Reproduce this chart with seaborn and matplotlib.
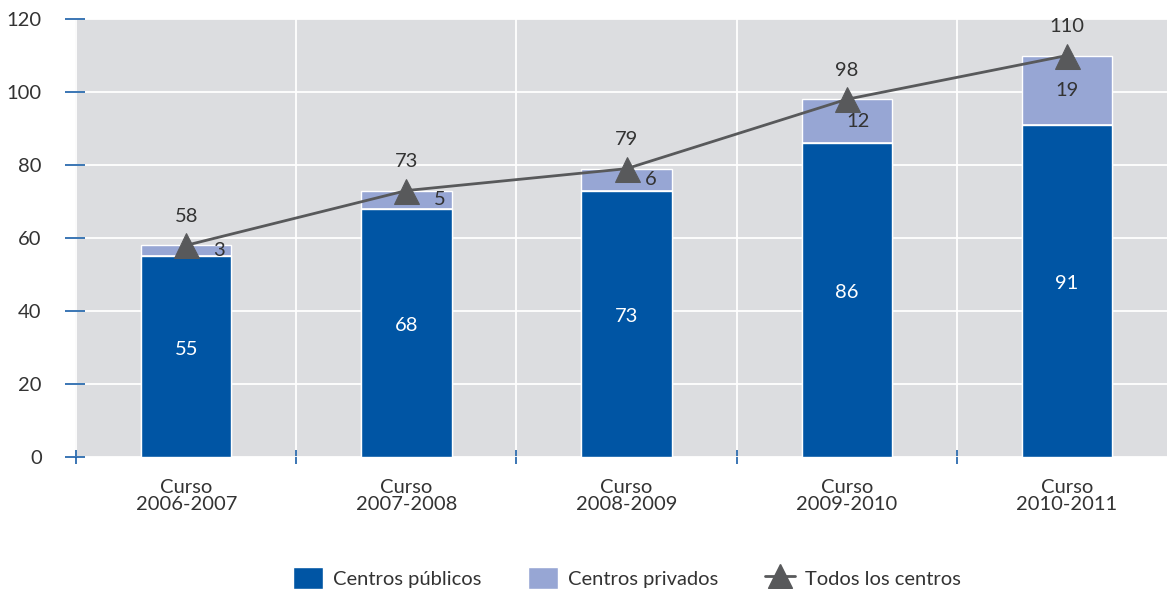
import numpy as np
import pandas as pd
import matplotlib
matplotlib.use('Agg')
import matplotlib.pyplot as plt
import seaborn as sns
from matplotlib.patches import Patch
from matplotlib.lines import Line2D

# Data
cursos = ["Curso\n2006-2007", "Curso\n2007-2008", "Curso\n2008-2009",
          "Curso\n2009-2010", "Curso\n2010-2011"]
publicos = [55, 68, 73, 86, 91]
privados = [3, 5, 6, 12, 19]
totales = [58, 73, 79, 98, 110]

# Colours
c_pub = "#0055a4"
c_priv = "#97a6d4"
c_line = "#58595b"
c_bg = "#dcdde0"
c_tick = "#1a5fa8"
c_text = "#333333"
fs = 14.5

sns.set_theme(style="white")
plt.rcParams['font.family'] = ['Lato', 'DejaVu Sans']

df = pd.DataFrame({"curso": cursos, "publicos": publicos,
                   "privados": privados, "totales": totales})
df["stack"] = df["publicos"] + df["privados"]

fig = plt.figure(figsize=(11.67, 5.89), dpi=100)
ax = fig.add_axes([0.0643, 0.2241, 0.9357, 0.7436])
ax.set_facecolor(c_bg)

# stacked bars: full stack in light colour, public part on top
sns.barplot(data=df, x="curso", y="stack", color=c_priv, width=0.41,
            saturation=1, ax=ax, zorder=2)
sns.barplot(data=df, x="curso", y="publicos", color=c_pub, width=0.41,
            saturation=1, ax=ax, zorder=3)
for i, p in enumerate(publicos):
    ax.hlines(p, i - 0.205, i + 0.205, color="white", lw=1.2, zorder=4)

# total line
x_pos = np.arange(len(cursos))
sns.lineplot(x=x_pos, y=totales, color=c_line, lw=2, marker="^",
             markersize=18, markeredgecolor=c_line, ax=ax, zorder=5)

# labels
priv_dx = [0.15, 0.15, 0.11, 0.05, 0.0]
for i in range(len(cursos)):
    ax.text(i, publicos[i] / 2 + 2, str(publicos[i]), color="white",
            ha="center", va="center", fontsize=fs, zorder=6)
    ax.text(i + priv_dx[i], publicos[i] + privados[i] / 2, str(privados[i]),
            color=c_text, ha="center", va="center", fontsize=fs, zorder=6)
    ax.annotate(str(totales[i]), (i, totales[i]), xytext=(0, 21),
                textcoords="offset points", ha="center", va="center",
                fontsize=fs, color=c_text, zorder=6)

# axes
ax.set_ylim(0, 120)
ax.set_xlim(-0.505, 4.455)
ax.set_yticks(range(0, 121, 20))
ax.set_xticks(x_pos)
ax.set_xticks(np.arange(-0.5, 4.0, 1.0), minor=True)
ax.set_xticklabels(cursos, fontsize=fs, color=c_text, linespacing=0.95)
ax.tick_params(axis="y", which="major", direction="inout", length=14,
               width=1.2, color=c_tick, labelsize=fs, labelcolor=c_text,
               left=True, pad=17)
ax.tick_params(axis="x", which="major", length=0, pad=16)
ax.tick_params(axis="x", which="minor", direction="inout", length=10,
               width=1.2, color=c_tick, bottom=True)
ax.grid(axis="y", which="major", color="white", lw=1.3, zorder=0)
ax.grid(axis="x", which="minor", color="white", lw=1.3, zorder=0)
ax.set_axisbelow(True)
ax.set_xlabel("")
ax.set_ylabel("")
for s in ax.spines.values():
    s.set_visible(False)

# legend
handles = [Patch(facecolor=c_pub, label="Centros públicos"),
           Patch(facecolor=c_priv, label="Centros privados"),
           Line2D([0], [0], color=c_line, lw=2, marker="^", markersize=17,
                  label="Todos los centros")]
fig.legend(handles=handles, loc="center", bbox_to_anchor=(0.537, 0.019),
           ncol=3, frameon=False, fontsize=fs, handlelength=1.5,
           handleheight=1.3, columnspacing=2.3, handletextpad=0.5,
           labelcolor=c_text)

fig.savefig("out.png", dpi=100)
